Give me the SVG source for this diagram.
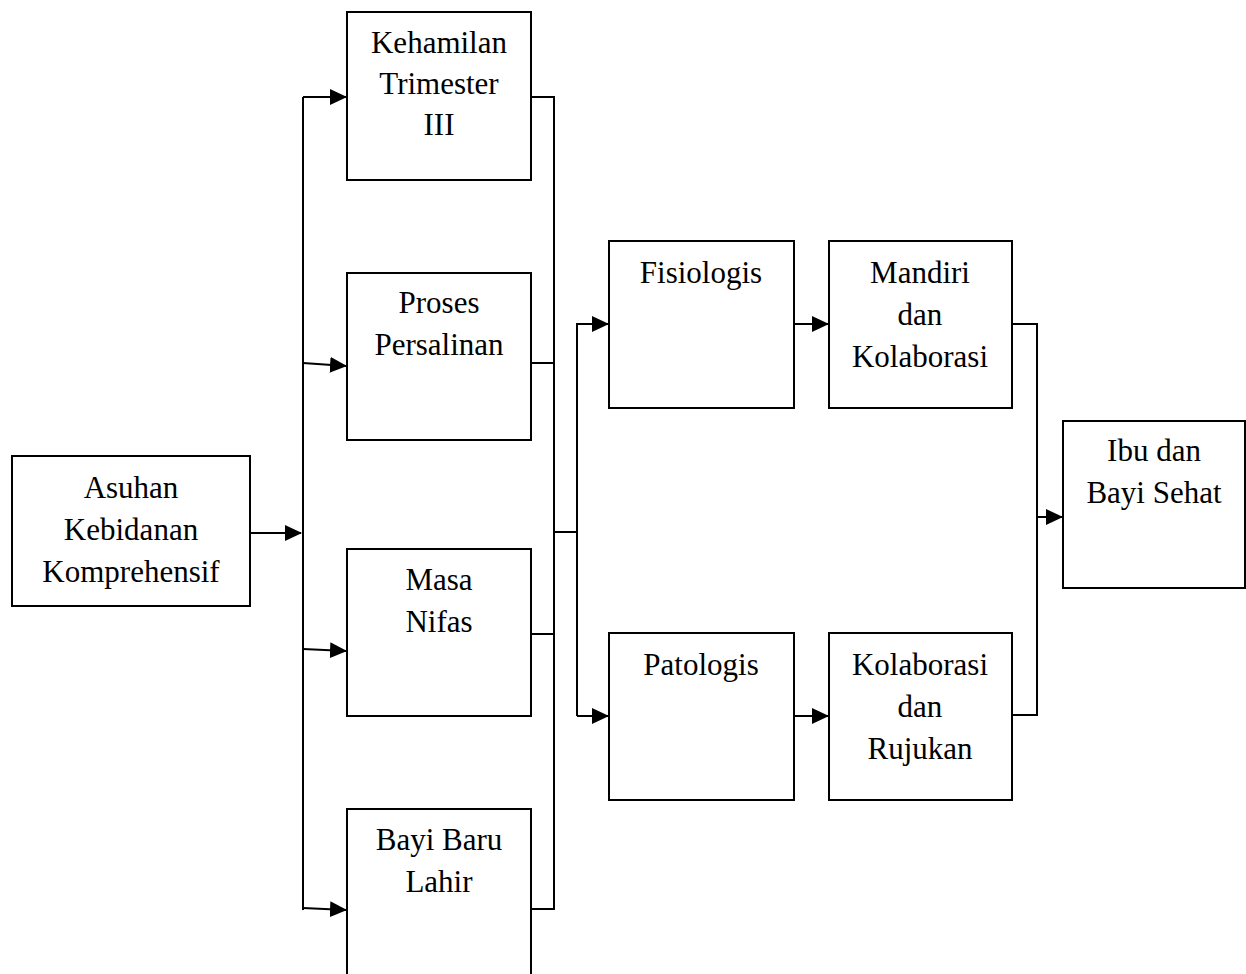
<svg xmlns="http://www.w3.org/2000/svg" width="1246" height="974" viewBox="0 0 1246 974">
<style>
.box{fill:#fff;stroke:#000;stroke-width:2}
.ln{fill:none;stroke:#000;stroke-width:2}
.t{font-family:"Liberation Serif","Times New Roman",serif;font-size:31px;fill:#000;text-anchor:middle}
</style>
<defs>
<marker id="ah" markerUnits="userSpaceOnUse" markerWidth="17" markerHeight="16" refX="16" refY="8" orient="auto">
<path d="M0,0 L17,8 L0,16 Z" fill="#000"/>
</marker>
</defs>
<rect width="1246" height="974" fill="#fff"/>
<g id="connectors">
<path class="ln" d="M250,533 H301" marker-end="url(#ah)"/>
<path class="ln" d="M303,97 V910"/>
<path class="ln" d="M303,97 H346" marker-end="url(#ah)"/>
<path class="ln" d="M303,363 L346,366" marker-end="url(#ah)"/>
<path class="ln" d="M303,649 L346,651" marker-end="url(#ah)"/>
<path class="ln" d="M303,908 L346,910" marker-end="url(#ah)"/>
<path class="ln" d="M531,97 H554 V909 H531"/>
<path class="ln" d="M531,363 H554"/>
<path class="ln" d="M531,634 H554"/>
<path class="ln" d="M554,532 H577"/>
<path class="ln" d="M577,716 V324 H608" marker-end="url(#ah)"/>
<path class="ln" d="M577,716 H608" marker-end="url(#ah)"/>
<path class="ln" d="M794,324 H828" marker-end="url(#ah)"/>
<path class="ln" d="M794,716 H828" marker-end="url(#ah)"/>
<path class="ln" d="M1012,324 H1037 V715 H1012"/>
<path class="ln" d="M1037,517 H1062" marker-end="url(#ah)"/>
</g>
<g id="asuhan">
<rect class="box" x="12" y="456" width="238" height="150"/>
<text class="t" x="131" y="498">Asuhan</text>
<text class="t" x="131" y="540">Kebidanan</text>
<text class="t" x="131" y="582">Komprehensif</text>
</g>
<g id="kehamilan">
<rect class="box" x="347" y="12" width="184" height="168"/>
<text class="t" x="439" y="53">Kehamilan</text>
<text class="t" x="439" y="94">Trimester</text>
<text class="t" x="439" y="135">III</text>
</g>
<g id="proses">
<rect class="box" x="347" y="273" width="184" height="167"/>
<text class="t" x="439" y="313">Proses</text>
<text class="t" x="439" y="355">Persalinan</text>
</g>
<g id="masa">
<rect class="box" x="347" y="549" width="184" height="167"/>
<text class="t" x="439" y="590">Masa</text>
<text class="t" x="439" y="632">Nifas</text>
</g>
<g id="bayi">
<rect class="box" x="347" y="809" width="184" height="180"/>
<text class="t" x="439" y="850">Bayi Baru</text>
<text class="t" x="439" y="892">Lahir</text>
</g>
<g id="fisiologis">
<rect class="box" x="609" y="241" width="185" height="167"/>
<text class="t" x="701" y="283">Fisiologis</text>
</g>
<g id="patologis">
<rect class="box" x="609" y="633" width="185" height="167"/>
<text class="t" x="701" y="675">Patologis</text>
</g>
<g id="mandiri">
<rect class="box" x="829" y="241" width="183" height="167"/>
<text class="t" x="920" y="283">Mandiri</text>
<text class="t" x="920" y="325">dan</text>
<text class="t" x="920" y="367">Kolaborasi</text>
</g>
<g id="kolaborasi">
<rect class="box" x="829" y="633" width="183" height="167"/>
<text class="t" x="920" y="675">Kolaborasi</text>
<text class="t" x="920" y="717">dan</text>
<text class="t" x="920" y="759">Rujukan</text>
</g>
<g id="ibu">
<rect class="box" x="1063" y="421" width="182" height="167"/>
<text class="t" x="1154" y="461">Ibu dan</text>
<text class="t" x="1154" y="503">Bayi Sehat</text>
</g>
</svg>
